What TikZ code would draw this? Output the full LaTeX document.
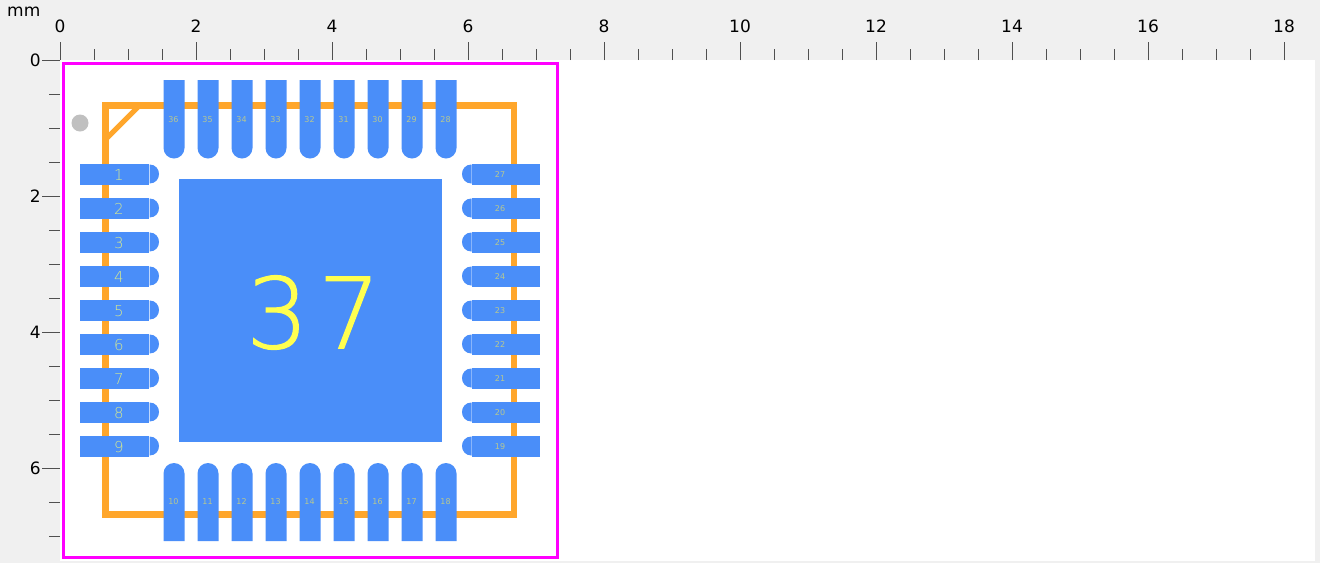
\documentclass[tikz,border=0pt]{standalone}
\usepackage{xcolor}
\usepackage{fontspec}
\setmainfont{DejaVu Sans}
\newfontfamily\thinfont{DejaVu Sans ExtraLight}
\newfontfamily\bigfont[FakeBold=1.2]{DejaVu Sans ExtraLight}
\definecolor{rulerbg}{HTML}{F0F0F0}
\definecolor{padblue}{HTML}{4A8EF9}
\definecolor{silkorange}{HTML}{FFA62B}
\definecolor{boxmagenta}{HTML}{FF00FF}
\definecolor{dotgray}{HTML}{C0C0C0}
\definecolor{tickgray}{HTML}{505050}
\definecolor{biglabel}{HTML}{FFFF50}
\definecolor{sidelabel}{HTML}{D5E890}
\definecolor{smalllabel}{HTML}{B8C890}
\tikzset{
	rulertext/.style={inner sep=0pt, text=black, font=\fontsize{17}{17}\selectfont},
	tick/.style={draw=tickgray, line width=1pt},
	pad/.style={fill=padblue},
	sidetext/.style={inner sep=0pt, text=sidelabel, font=\thinfont\fontsize{15}{15}\selectfont},
	smalltext/.style={inner sep=0pt, text=smalllabel, font=\fontsize{8}{8}\selectfont},
}
\begin{document}
\begin{tikzpicture}[x=1pt, y=-1pt]
			\useasboundingbox (0,0) rectangle (1320,563);
			\fill[rulerbg] (0,0) rectangle (1320,563);
			\fill[white] (60,60) rectangle (1315,561);
			
			%ruler
			\node[rulertext, anchor=west](mm) at (7,12) {mm};
			\foreach \i in {0,2,...,18}{
				\node[rulertext](x\i) at (60+68*\i,26.5) {\i};
				\draw[tick] (60+68*\i,60) --++(0,-18);
			}
			\foreach \i in {1,...,36}{
				\draw[tick] (60+34*\i,60) --++(0,-11);
			}
			\foreach \i in {0,2,4,6}{
				\node[rulertext, anchor=east](y\i) at (41,60+68*\i) {\i};
				\draw[tick] (60,60+68*\i) --++(-18,0);
			}
			\foreach \i in {1,...,14}{
				\draw[tick] (60,60+34*\i) --++(-11,0);
			}
			
			%outline
			\draw[silkorange, line width=6.5pt] (105.5,105.5) rectangle (514,514.5);
			\draw[silkorange, line width=5pt] (140,105) -- (105,140);
			\fill[dotgray] (80,123) circle (8.5);
			
			%left and right pads
			\foreach \i in {1,...,9}{
				\pgfmathsetmacro{\py}{174+34*(\i-1)}
				\pgfmathtruncatemacro{\j}{28-\i}
				\fill[pad] (80,\py-10.5) rectangle (149,\py+10.5);
				\fill[pad] (149.5,\py-9.5) .. controls (155.5,\py-9.5) and (159,\py-5) .. (159,\py) .. controls (159,\py+5) and (155.5,\py+9.5) .. (149.5,\py+9.5) -- cycle;
				\node[sidetext](l\i) at (119,\py+1) {\i};
				\fill[pad] (472,\py-10.5) rectangle (540,\py+10.5);
				\fill[pad] (471.5,\py-9.5) .. controls (465.5,\py-9.5) and (462,\py-5) .. (462,\py) .. controls (462,\py+5) and (465.5,\py+9.5) .. (471.5,\py+9.5) -- cycle;
				\node[smalltext](r\j) at (500,\py+0.5) {\j};
			}
			
			%top and bottom pads
			\foreach \i in {0,...,8}{
				\pgfmathsetmacro{\px}{174+34*\i}
				\pgfmathtruncatemacro{\t}{36-\i}
				\pgfmathtruncatemacro{\b}{10+\i}
				\fill[pad] (\px-10.5,80) [rounded corners=10.5pt] -- (\px-10.5,158.5) -- (\px+10.5,158.5) [sharp corners] -- (\px+10.5,80) -- cycle;
				\node[smalltext](t\t) at (\px-0.5,120) {\t};
				\fill[pad] (\px-10.5,541) [rounded corners=10.5pt] -- (\px-10.5,463) -- (\px+10.5,463) [sharp corners] -- (\px+10.5,541) -- cycle;
				\node[smalltext](b\b) at (\px-0.5,502) {\b};
			}
			
			%center pad
			\fill[pad] (179,179) rectangle (442,442);
			\node[inner sep=0pt, text=biglabel, font=\bigfont\fontsize{98}{98}\selectfont](c37) at (313.5,312.5) {3\kern9.7pt 7};
			
			\draw[boxmagenta, line width=3pt] (63.5,63.5) rectangle (557,557);
			\end{tikzpicture}
\end{document}
